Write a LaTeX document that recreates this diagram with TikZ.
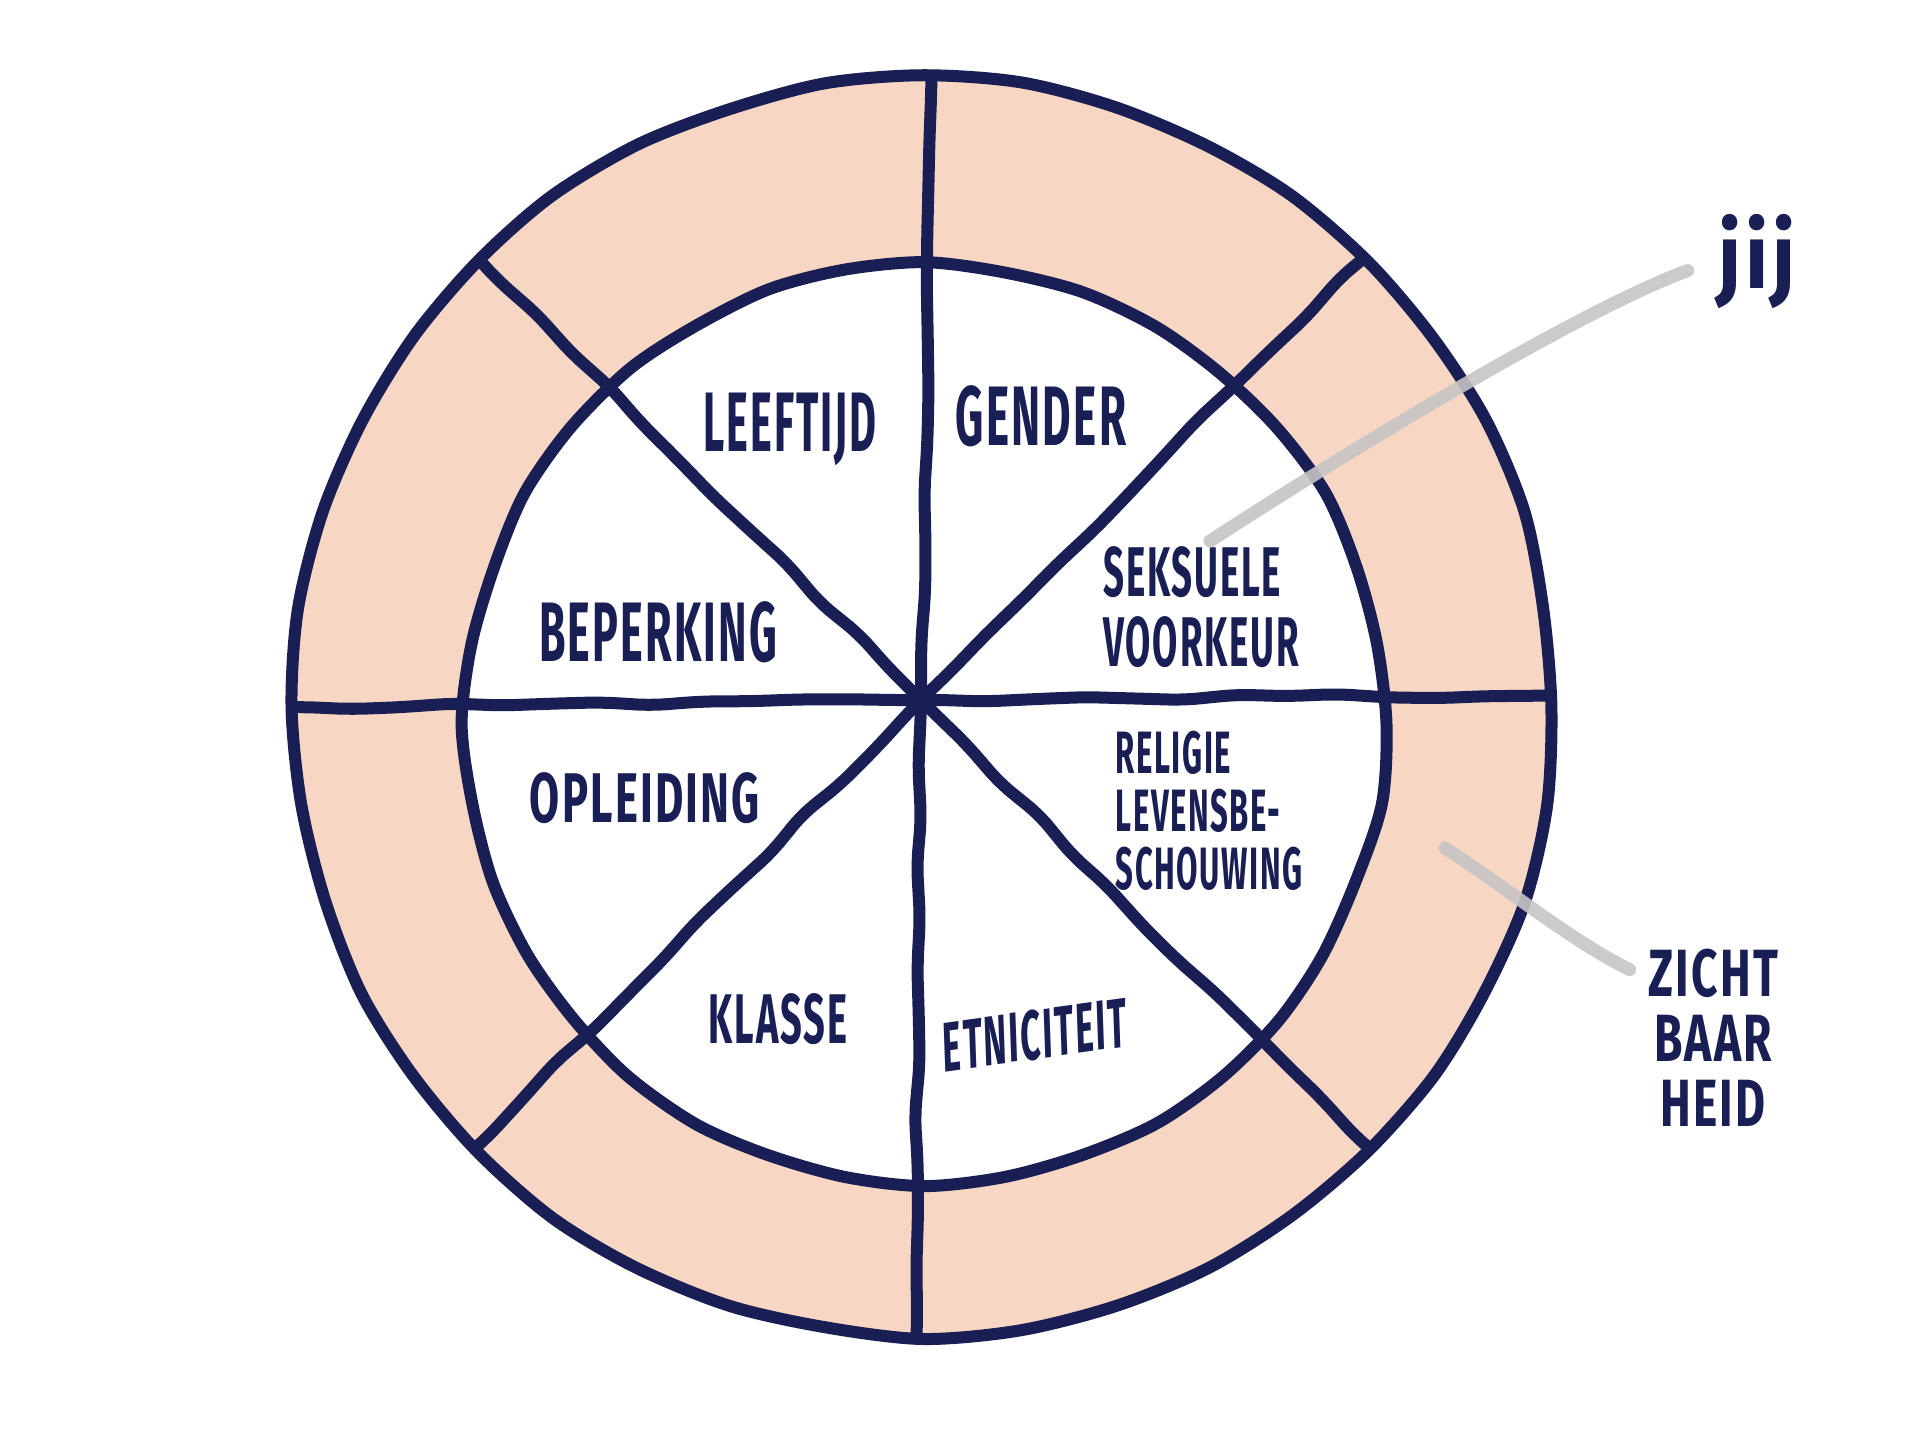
\documentclass[tikz,border=0pt]{standalone}
\usepackage{fontspec}
\usetikzlibrary{decorations.pathmorphing}
\newfontfamily\hand[LetterSpace=5]{Fira Sans}

\begin{document}
\begin{tikzpicture}[x=0.01cm,y=-0.01cm,
		bibber/.style={decorate,decoration={random steps,segment length=5mm,amplitude=0.3mm},rounded corners=1.5mm},
		lijn/.style={draw=navy,line width=0.12cm,line cap=round,line join=round},
		spaak/.style={lijn,bibber},
		wijzer/.style={draw=grijs,line width=0.13cm,line cap=round,opacity=0.9},
		woord/.style={text=navy,inner sep=2pt,align=left},
		groot/.style={font=\hand\bfseries\fontsize{24}{20}\selectfont},
		klein/.style={font=\hand\bfseries\fontsize{20}{20}\selectfont},
		kleiner/.style={font=\hand\bfseries\fontsize{17}{16.5}\selectfont}]
			\definecolor{navy}{rgb}{0.10,0.12,0.33}
			\definecolor{perzik}{rgb}{0.97,0.84,0.77}
			\definecolor{grijs}{rgb}{0.78,0.77,0.77}
			\pgfmathsetseed{11}
			\useasboundingbox (0,0) rectangle (1920,1439);
			%
			\coordinate (c) at (921,700);
			\coordinate (boven) at (932,40);
			\coordinate (onder) at (915,1380);
			\coordinate (links) at (250,708);
			\coordinate (rechts) at (1595,694);
			\coordinate (lb) at (431,210);
			\coordinate (ro) at (1411,1190);
			\coordinate (rb) at (1411,210);
			\coordinate (lo) at (431,1190);
			%
			\fill[perzik] (923,707) circle (630);
			\fill[white] (925,724) circle (461);
			%
			\begin{scope}
				\clip (923,707) circle (630);
				\draw[spaak] (boven) -- (c) -- (onder);
				\draw[spaak] (links) -- (c) -- (rechts);
				\draw[spaak] (lb) -- (c) -- (ro);
				\draw[spaak] (rb) -- (c) -- (lo);
			\end{scope}
			\draw[lijn] plot[smooth cycle,samples=40,domain=0:351,variable=\t] ({923+(630+3*rand)*cos(\t)},{707+(630+3*rand)*sin(\t)});
			\draw[lijn] plot[smooth cycle,samples=36,domain=0:350,variable=\t] ({925+(461+3*rand)*cos(\t)},{724+(461+3*rand)*sin(\t)});
			%
			\node[woord,groot,xscale=0.49] (leeftijd) at (790,429) {LEEFTIJD};
			\node[woord,groot,xscale=0.52] (gender) at (1041,416) {GENDER};
			\node[woord,klein,xscale=0.52] (seksueel) at (1201,607) {SEKSUELE\\VOORKEUR};
			\node[woord,groot,xscale=0.51] (beperking) at (658,632) {BEPERKING};
			\node[woord,klein,xscale=0.62] (opleiding) at (645,798) {OPLEIDING};
			\node[woord,kleiner,xscale=0.52] (religie) at (1209,811) {RELIGIE\\LEVENSBE-\\SCHOUWING};
			\node[woord,klein,xscale=0.54] (klasse) at (778,1019) {KLASSE};
			\node[woord,klein,xscale=0.5,rotate=4] (etniciteit) at (1035,1035) {ETNICITEIT};
			%
			\node[woord,font=\hand\bfseries\fontsize{26}{26}\selectfont,xscale=0.9] (jij) at (1757,262) {jij};
			\node[woord,font=\hand\bfseries\fontsize{19}{18.5}\selectfont,xscale=0.69,inner sep=0pt,align=center] (zicht) at (1713,1038) {ZICHT\\BAAR\\HEID};
			%
			\coordinate (jijpunt) at (1210,541);
			\coordinate (zichtpunt) at (1445,848);
			\draw[wijzer,shorten >=0.25cm] (jijpunt) .. controls (1350,450) and (1580,310) .. (jij.west);
			\draw[wijzer,shorten >=0.2cm] (zichtpunt) .. controls (1510,890) and (1570,940) .. ([yshift=-0.3cm]zicht.north west);
			%
		\end{tikzpicture}
\end{document}
